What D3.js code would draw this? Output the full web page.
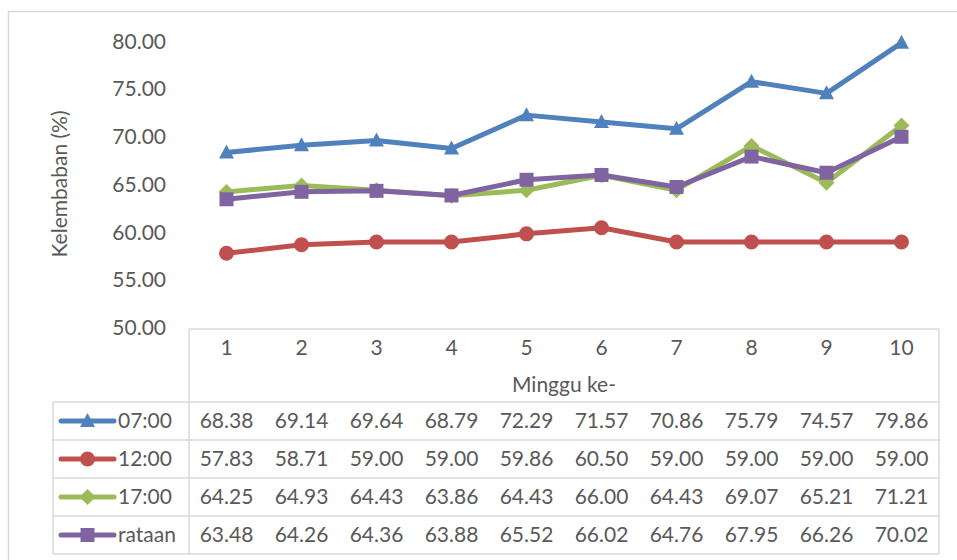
<!DOCTYPE html>
<html>
<head>
<meta charset="utf-8">
<script src="https://cdn.jsdelivr.net/npm/d3@7"></script>
<style>
  html, body { margin: 0; padding: 0; background: #fff; }
  svg { display: block; }
  text { font-family: Lato, "Open Sans", sans-serif; fill: #595959; }
</style>
</head>
<body>
<svg id="chart" width="957" height="560"></svg>
<script>
// Weekly relative humidity readings
const weeks = ["1", "2", "3", "4", "5", "6", "7", "8", "9", "10"];
const seriesNames = ["07:00", "12:00", "17:00", "rataan"];
const values0700 = [68.38, 69.14, 69.64, 68.79, 72.29, 71.57, 70.86, 75.79, 74.57, 79.86];
const values1200 = [57.83, 58.71, 59.00, 59.00, 59.86, 60.50, 59.00, 59.00, 59.00, 59.00];
const values1700 = [64.25, 64.93, 64.43, 63.86, 64.43, 66.00, 64.43, 69.07, 65.21, 71.21];
const valuesRataan = [63.48, 64.26, 64.36, 63.88, 65.52, 66.02, 64.76, 67.95, 66.26, 70.02];
const yTicks = [50, 55, 60, 65, 70, 75, 80];
const yTitle = "Kelembaban (%)";
const xTitle = "Minggu ke-";

const colors = ["#4F81BD", "#C0504D", "#9BBB59", "#8064A2"];
const shapes = ["triangle", "circle", "diamond", "square"];
const series = [values0700, values1200, values1700, valuesRataan].map((v, i) => ({
  name: seriesNames[i], values: v, color: colors[i], shape: shapes[i]
}));

const svg = d3.select("#chart");
const gridColor = "#D9D9D9";
const fontSize = 21;

// Outer chart frame
svg.append("path")
  .attr("d", "M8.5,560 V11.5 H957")
  .attr("fill", "none").attr("stroke", gridColor).attr("stroke-width", 1.5);

const x = d3.scaleBand().domain(weeks).range([189, 939]);
const y = d3.scaleLinear().domain([50, 80]).range([328, 41.5]);

// Y axis labels (no axis line, no gridlines)
const yAxis = d3.axisLeft(y).tickValues(yTicks).tickFormat(d3.format(".2f")).tickSize(0).tickPadding(0);
const yg = svg.append("g").attr("transform", "translate(166,0)").call(yAxis);
yg.select(".domain").remove();
yg.selectAll("text").attr("font-size", fontSize).attr("font-family", null).attr("fill", null);

svg.append("text")
  .attr("transform", "translate(67,184) rotate(-90)")
  .attr("text-anchor", "middle").attr("font-size", fontSize)
  .text(yTitle);

// Marker shapes
function markerPath(shape, cx, cy) {
  const p = d3.path();
  if (shape === "triangle") {
    p.moveTo(cx, cy - 8); p.lineTo(cx + 7.5, cy + 6); p.lineTo(cx - 7.5, cy + 6); p.closePath();
  } else if (shape === "circle") {
    p.moveTo(cx + 7.5, cy); p.arc(cx, cy, 7.5, 0, 2 * Math.PI);
  } else if (shape === "diamond") {
    p.moveTo(cx, cy - 8); p.lineTo(cx + 8, cy); p.lineTo(cx, cy + 8); p.lineTo(cx - 8, cy); p.closePath();
  } else {
    p.rect(cx - 7, cy - 7, 14, 14);
  }
  return p.toString();
}

const cx = d => x(d) + x.bandwidth() / 2;
const line = d3.line().x((d, i) => cx(weeks[i])).y(d => y(d));

const plot = svg.append("g");
series.forEach(s => {
  const g = plot.append("g");
  g.append("path").attr("d", line(s.values))
    .attr("fill", "none").attr("stroke", s.color).attr("stroke-width", 5)
    .attr("stroke-linejoin", "round").attr("stroke-linecap", "round");
  g.selectAll("path.m").data(s.values).enter().append("path").attr("class", "m")
    .attr("d", (d, i) => markerPath(s.shape, cx(weeks[i]), y(d)))
    .attr("fill", s.color);
});

// Data table
const tableTop = 329, headerBottom = 402, rowH = 38;
const legendLeft = 53, tableLeft = 189, tableRight = 939;
const tg = svg.append("g").attr("stroke", gridColor).attr("stroke-width", 1.5).attr("fill", "none");
tg.append("line").attr("x1", tableLeft).attr("x2", tableRight).attr("y1", tableTop).attr("y2", tableTop);
tg.append("line").attr("x1", tableLeft).attr("x2", tableLeft).attr("y1", tableTop).attr("y2", headerBottom + rowH * series.length);
tg.append("line").attr("x1", tableRight).attr("x2", tableRight).attr("y1", tableTop).attr("y2", headerBottom + rowH * series.length);
tg.append("line").attr("x1", legendLeft).attr("x2", legendLeft).attr("y1", headerBottom).attr("y2", headerBottom + rowH * series.length);
d3.range(series.length + 1).forEach(i => {
  tg.append("line").attr("x1", legendLeft).attr("x2", tableRight)
    .attr("y1", headerBottom + rowH * i).attr("y2", headerBottom + rowH * i);
});

// Category labels and axis title
svg.append("g").selectAll("text").data(weeks).enter().append("text")
  .attr("x", d => cx(d)).attr("y", 348).attr("dy", "0.35em")
  .attr("text-anchor", "middle").attr("font-size", fontSize).text(d => d);
svg.append("text").attr("x", (tableLeft + tableRight) / 2).attr("y", 385).attr("dy", "0.35em")
  .attr("text-anchor", "middle").attr("font-size", fontSize).text(xTitle);

// Rows: legend key + values
series.forEach((s, r) => {
  const ry = headerBottom + rowH * r + rowH / 2;
  const g = svg.append("g");
  g.append("line").attr("x1", 61).attr("x2", 114).attr("y1", ry).attr("y2", ry)
    .attr("stroke", s.color).attr("stroke-width", 5).attr("stroke-linecap", "round");
  g.append("path").attr("d", markerPath(s.shape, 87.5, ry)).attr("fill", s.color);
  g.append("text").attr("x", 118).attr("y", ry).attr("dy", "0.35em")
    .attr("font-size", fontSize).text(s.name);
  g.selectAll("text.v").data(s.values).enter().append("text").attr("class", "v")
    .attr("x", (d, i) => cx(weeks[i])).attr("y", ry).attr("dy", "0.35em")
    .attr("text-anchor", "middle").attr("font-size", fontSize)
    .text(d => d3.format(".2f")(d));
});
</script>
</body>
</html>
